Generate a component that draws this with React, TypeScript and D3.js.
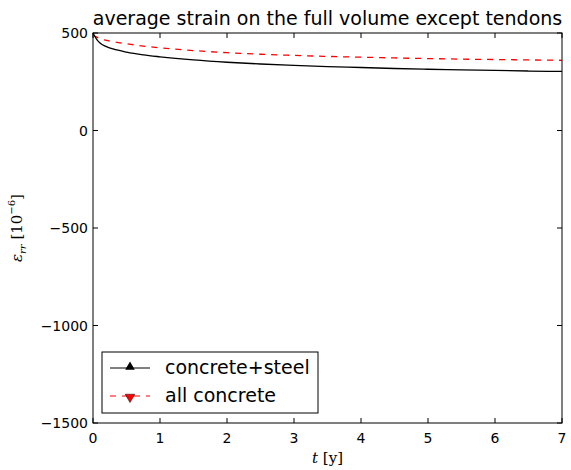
import React, { useRef, useEffect } from "react";
import * as d3 from "d3";

// time in years
const tYears = [0, 0.05, 0.1, 0.2, 0.3, 0.5, 0.75, 1, 1.5, 2, 2.5, 3, 3.5, 4, 4.5, 5, 5.5, 6, 6.5, 7];
// average strain [1e-6]
const concreteSteel = [500, 470, 450, 430, 418, 402, 388, 378, 362, 350, 341, 334, 328, 323, 318, 314, 311, 308, 305, 303];
const allConcrete = [490, 480, 472, 462, 455, 445, 433, 424, 410, 399, 391, 385, 380, 376, 372, 369, 366, 364, 362, 360];

const xTicks = [0, 1, 2, 3, 4, 5, 6, 7];
const yTicks = [500, 0, -500, -1000, -1500];

const App = () => {
  const ref = useRef<SVGSVGElement | null>(null);

  useEffect(() => {
    if (!ref.current) return;
    const svg = d3.select(ref.current);
    svg.selectAll("*").remove();

    const margin = { top: 33, right: 9, bottom: 47, left: 93 };
    const width = 571 - margin.left - margin.right;
    const height = 470 - margin.top - margin.bottom;
    const font = "DejaVu Sans, sans-serif";

    const x = d3.scaleLinear().domain([0, 7]).range([0, width]);
    const y = d3.scaleLinear().domain([-1500, 500]).range([height, 0]);

    const g = svg.append("g").attr("transform", `translate(${margin.left},${margin.top})`);

    // ticks (inward, all four sides)
    xTicks.forEach((t) => {
      g.append("line").attr("x1", x(t)).attr("x2", x(t)).attr("y1", height).attr("y2", height - 5).attr("stroke", "#000");
      g.append("line").attr("x1", x(t)).attr("x2", x(t)).attr("y1", 0).attr("y2", 5).attr("stroke", "#000");
      g.append("text").attr("x", x(t)).attr("y", height + 20).attr("text-anchor", "middle")
        .attr("font-family", font).attr("font-size", 14).text(String(t));
    });
    yTicks.forEach((v) => {
      g.append("line").attr("x1", 0).attr("x2", 5).attr("y1", y(v)).attr("y2", y(v)).attr("stroke", "#000");
      g.append("line").attr("x1", width).attr("x2", width - 5).attr("y1", y(v)).attr("y2", y(v)).attr("stroke", "#000");
      g.append("text").attr("x", -5).attr("y", y(v) + 5).attr("text-anchor", "end")
        .attr("font-family", font).attr("font-size", 14).text(v < 0 ? "\u2212" + Math.abs(v) : String(v));
    });

    const line = d3.line<number>().x((_, i) => x(tYears[i])).y((d) => y(d)).curve(d3.curveMonotoneX);

    g.append("path").datum(allConcrete).attr("d", line).attr("fill", "none")
      .attr("stroke", "#ff0000").attr("stroke-width", 1.3).attr("stroke-dasharray", "6,6");
    g.append("path").datum(concreteSteel).attr("d", line).attr("fill", "none")
      .attr("stroke", "#000").attr("stroke-width", 1.3);

    // frame
    g.append("rect").attr("width", width).attr("height", height).attr("fill", "none").attr("stroke", "#000");

    // legend
    const lg = g.append("g").attr("transform", `translate(${102 - margin.left},${352 - margin.top})`);
    lg.append("rect").attr("width", 216).attr("height", 61).attr("fill", "#fff").attr("stroke", "#000");
    lg.append("line").attr("x1", 8).attr("x2", 48).attr("y1", 16).attr("y2", 16).attr("stroke", "#000");
    lg.append("path").attr("d", d3.symbol(d3.symbolTriangle, 40)()).attr("transform", "translate(28,15)").attr("fill", "#000");
    lg.append("text").attr("x", 63).attr("y", 22).attr("font-family", font).attr("font-size", 19).text("concrete+steel");
    lg.append("line").attr("x1", 8).attr("x2", 48).attr("y1", 44).attr("y2", 44).attr("stroke", "#ff0000").attr("stroke-dasharray", "6,6");
    lg.append("path").attr("d", d3.symbol(d3.symbolTriangle, 40)()).attr("transform", "translate(28,45) rotate(180)")
      .attr("fill", "#ff0000").attr("stroke", "#000").attr("stroke-width", 0.5);
    lg.append("text").attr("x", 63).attr("y", 50).attr("font-family", font).attr("font-size", 19).text("all concrete");

    // title
    svg.append("text").attr("x", margin.left + width / 2).attr("y", 25).attr("text-anchor", "middle")
      .attr("font-family", font).attr("font-size", 19).text("average strain on the full volume except tendons");

    // x label
    const xl = svg.append("text").attr("x", margin.left + width / 2).attr("y", 463).attr("text-anchor", "middle")
      .attr("font-family", "DejaVu Serif, serif").attr("font-size", 15);
    xl.append("tspan").attr("font-style", "italic").text("t");
    xl.append("tspan").text(" [y]");

    // y label
    const yl = svg.append("text").attr("transform", `translate(22,${margin.top + height / 2}) rotate(-90)`)
      .attr("text-anchor", "middle").attr("font-family", "DejaVu Serif, serif").attr("font-size", 15);
    yl.append("tspan").attr("font-style", "italic").text("\u03b5");
    yl.append("tspan").attr("font-style", "italic").attr("font-size", 10).attr("dy", 4).text("rr");
    yl.append("tspan").attr("dy", -4).text(" [10");
    yl.append("tspan").attr("font-size", 10).attr("dy", -7).text("\u22126");
    yl.append("tspan").attr("dy", 7).text("]");
  }, []);

  return <svg ref={ref} width={571} height={470} style={{ position: "absolute", left: 0, top: 0 }} />;
};

export default App;
